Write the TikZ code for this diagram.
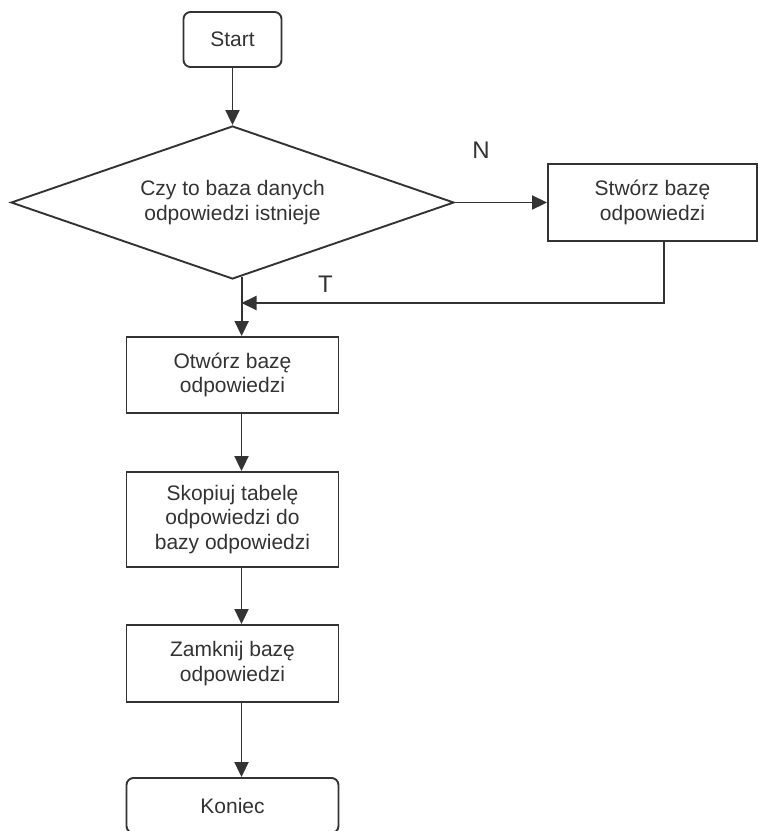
\documentclass[tikz,border=0pt]{standalone}
\usepackage{fontspec}
\setmainfont{Liberation Sans}
\usetikzlibrary{shapes.geometric,arrows.meta}
\definecolor{ink}{HTML}{333333}

\begin{document}
\begin{tikzpicture}[x=1pt,y=-1pt,
  every node/.style={font=\fontsize{21}{24.5}\selectfont, text=ink, align=center, inner sep=0pt},
  stepbox/.style={draw=ink, line width=1.9pt, minimum width=212pt},
  terminal/.style={stepbox, rounded corners=7pt},
  decision/.style={draw=ink, line width=1.9pt, shape=diamond, aspect=2.9,
    minimum width=443pt, minimum height=153pt},
  flow/.style={draw=ink, line width=1.9pt, -{Triangle[length=15pt,width=14pt]}},
  tag/.style={font=\fontsize{24}{28}\selectfont}]

  \useasboundingbox (0,0) rectangle (758,831);

  % process steps
  \node[terminal, minimum width=98pt, minimum height=55pt] (start) at (232.5,39.5) {Start};
  \node[decision] (check) at (232.5,202.5) {Czy to baza danych\\odpowiedzi istnieje};
  \node[stepbox, minimum width=209pt, minimum height=77pt] (create) at (652.5,202.5) {Stwórz bazę\\odpowiedzi};
  \node[stepbox, minimum height=76pt] (open) at (232.5,375) {Otwórz bazę\\odpowiedzi};
  \node[stepbox, minimum height=95pt] (copy) at (232.5,519.5) {Skopiuj tabelę\\odpowiedzi do\\bazy odpowiedzi};
  \node[stepbox, minimum height=77pt] (close) at (232.5,663.5) {Zamknij bazę\\odpowiedzi};
  \node[terminal, minimum height=55pt] (stop) at (232.5,805.5) {Koniec};

  % branch labels
  \node[tag] (no) at (481,150) {N};
  \node[tag] (yes) at (325.5,284.5) {T};

  % merge point of the two branches
  \coordinate (merge) at (241.5,303);

  % connectors
  \draw[flow] (start) -- (check);
  \draw[flow] (check.east) -- (create.west);
  \draw[flow] ([xshift=11.5pt]create.south) |- (merge);
  \draw[flow] (check.-83) -- (check.-83 |- open.north);
  \draw[flow] (open.south -| merge) -- (copy.north -| merge);
  \draw[flow] (copy.south -| merge) -- (close.north -| merge);
  \draw[flow] (close.south -| merge) -- (stop.north -| merge);
\end{tikzpicture}
\end{document}
